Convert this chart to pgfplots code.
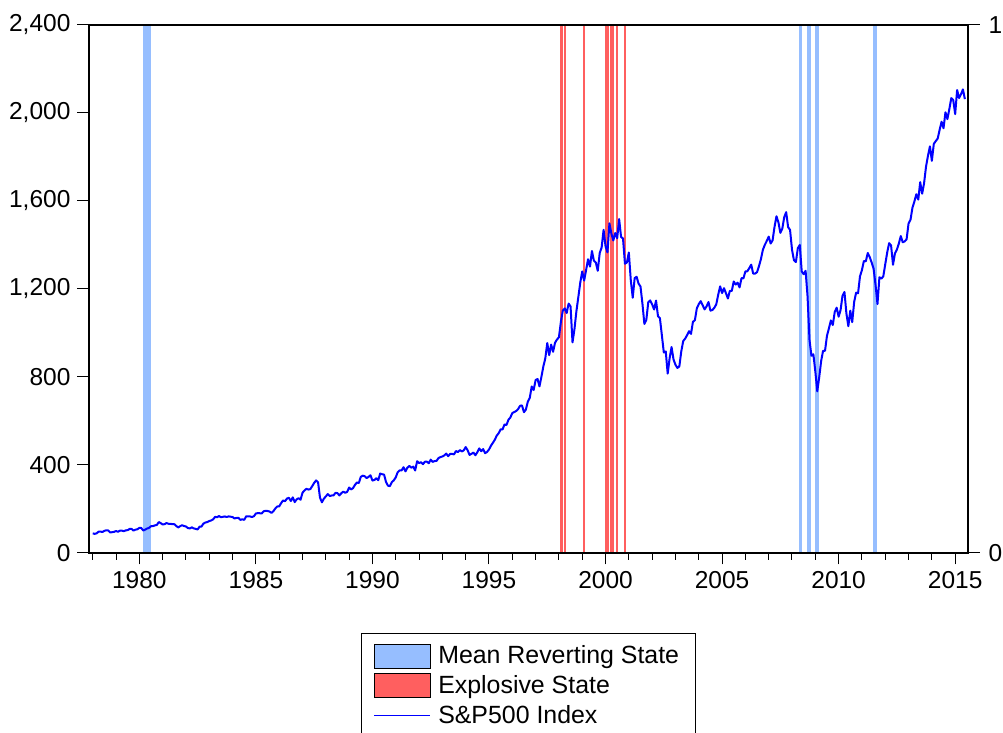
\documentclass[border=0pt]{standalone}
\usepackage{pgfplots}
\pgfplotsset{compat=1.18}
\usepackage{fontspec}
\setmainfont{Liberation Sans}
\definecolor{mrblue}{RGB}{150,190,255}
\definecolor{exred}{RGB}{255,95,95}
\definecolor{lineblue}{RGB}{0,0,255}
\begin{document}
\begin{tikzpicture}
\path[use as bounding box] (-44.5pt,-90pt) rectangle (457pt,276.5pt);
\pgfplotsset{
  common/.style={
    scale only axis, width=439.5pt, height=264pt,
    at={(0pt,0pt)}, anchor=south west,
    xmin=1977.84, xmax=2015.55,
    tick align=outside,
    major tick length=5.75pt, minor tick length=3.5pt,
    tick style={line width=0.5pt, black},
    font=\fontsize{12.25}{14}\selectfont,
    ticklabel style={font=\fontsize{12.25}{14}\selectfont},
    /pgf/number format/assume math mode=true,
    axis line style={line width=0.8pt},
  }
}
% right axis: regime indicator bands (0/1)
\begin{axis}[common, ymin=0, ymax=1, axis x line=none, axis y line*=right,
  ytick={0,1}, yticklabel style={xshift=1pt}]
\addplot[fill=mrblue, draw=none] coordinates {(1980.15,1) (1980.49,1)} \closedcycle;
\addplot[fill=exred, draw=none] coordinates {(1998.06,1) (1998.16,1)} \closedcycle;
\addplot[fill=exred, draw=none] coordinates {(1998.21,1) (1998.30,1)} \closedcycle;
\addplot[fill=exred, draw=none] coordinates {(1999.04,1) (1999.14,1)} \closedcycle;
\addplot[fill=exred, draw=none] coordinates {(1999.96,1) (2000.16,1)} \closedcycle;
\addplot[fill=exred, draw=none] coordinates {(2000.21,1) (2000.37,1)} \closedcycle;
\addplot[fill=exred, draw=none] coordinates {(2000.46,1) (2000.55,1)} \closedcycle;
\addplot[fill=exred, draw=none] coordinates {(2000.80,1) (2000.89,1)} \closedcycle;
\addplot[fill=mrblue, draw=none] coordinates {(2008.31,1) (2008.41,1)} \closedcycle;
\addplot[fill=mrblue, draw=none] coordinates {(2008.66,1) (2008.83,1)} \closedcycle;
\addplot[fill=mrblue, draw=none] coordinates {(2009.00,1) (2009.16,1)} \closedcycle;
\addplot[fill=mrblue, draw=none] coordinates {(2011.49,1) (2011.66,1)} \closedcycle;
\end{axis}
% left axis: S&P500 index
\begin{axis}[common, ymin=0, ymax=2400,
  ytick={0,400,...,2400},
  xtick={1980,1985,...,2015},
  minor xtick={1978,...,2015},
  xtick pos=bottom, ytick pos=left,
  xticklabel style={/pgf/number format/1000 sep={}},
  yticklabel style={/pgf/number format/1000 sep={,}},
  legend style={at={(0.5,-0.1515)}, anchor=north, draw=black, line width=0.5pt,
    font=\fontsize{12.45}{14}\selectfont, inner xsep=5.75pt, inner ysep=3.75pt,
    row sep=0pt, nodes={inner sep=2.2pt}},
  legend cell align=left,
]
\addlegendimage{legend image code/.code={\draw[fill=mrblue, draw=black, line width=0.4pt] (0pt,-6pt) rectangle (28pt,6pt);}}
\addlegendentry{\hspace*{1.5pt}Mean Reverting State}
\addlegendimage{legend image code/.code={\draw[fill=exred, draw=black, line width=0.4pt] (0pt,-6pt) rectangle (28pt,6pt);}}
\addlegendentry{\hspace*{1.5pt}Explosive State}
\addplot[lineblue, line width=1pt, line join=round,
  legend image code/.code={\draw[draw=lineblue, line width=0.7pt] (0pt,0pt) -- (28pt,0pt);}]
  table[row sep=\\, x expr=1978+\coordindex/12, y=v] {
v\\
89.25\\87.04\\89.21\\96.83\\97.24\\95.53\\100.68\\103.29\\102.54\\93.15\\94.70\\96.11\\
99.93\\96.28\\101.59\\101.76\\99.08\\102.91\\103.81\\109.32\\109.32\\101.82\\106.16\\107.94\\
114.16\\113.66\\102.09\\106.29\\111.24\\114.24\\121.67\\122.38\\125.46\\127.47\\140.52\\135.76\\
129.55\\131.27\\136.00\\132.81\\132.59\\131.21\\130.92\\122.79\\116.18\\121.89\\126.35\\122.55\\
120.40\\113.11\\111.96\\116.44\\111.88\\109.61\\107.09\\119.51\\120.42\\133.71\\138.54\\140.64\\
145.30\\148.06\\152.96\\164.42\\162.39\\168.11\\162.56\\164.40\\166.07\\163.55\\166.40\\164.93\\
163.41\\157.06\\159.18\\160.05\\150.55\\153.18\\150.66\\166.68\\166.10\\166.09\\163.58\\167.24\\
179.63\\181.18\\180.66\\179.83\\189.55\\191.85\\190.92\\188.63\\182.08\\189.82\\202.17\\211.28\\
211.78\\226.92\\238.90\\235.52\\247.35\\250.84\\236.12\\252.93\\231.32\\243.98\\249.22\\242.17\\
274.08\\284.20\\291.70\\288.36\\290.10\\304.00\\318.66\\329.80\\321.83\\251.79\\230.30\\247.08\\
257.07\\267.82\\258.89\\261.33\\262.16\\273.50\\272.02\\261.52\\271.91\\278.97\\273.70\\277.72\\
297.47\\288.86\\294.87\\309.64\\320.52\\317.98\\346.08\\351.45\\349.15\\340.36\\345.99\\353.40\\
329.08\\331.89\\339.94\\330.80\\361.23\\358.02\\356.15\\322.56\\306.05\\304.00\\322.22\\330.22\\
343.93\\367.07\\375.22\\375.35\\389.83\\371.16\\387.81\\395.43\\387.86\\392.46\\375.22\\417.09\\
408.79\\412.70\\403.69\\414.95\\415.35\\408.14\\424.21\\414.03\\417.80\\418.68\\431.35\\435.71\\
438.78\\443.38\\451.67\\440.19\\450.19\\450.53\\448.13\\463.56\\458.93\\467.83\\461.79\\466.45\\
481.61\\467.14\\445.77\\450.91\\456.50\\444.27\\458.26\\475.49\\462.69\\472.35\\453.69\\459.27\\
470.42\\487.39\\500.71\\514.71\\533.40\\544.75\\562.06\\561.88\\584.41\\581.50\\605.37\\615.93\\
636.02\\640.43\\645.50\\654.17\\669.12\\670.63\\639.95\\651.99\\687.31\\705.27\\757.02\\740.74\\
786.16\\790.82\\757.12\\801.34\\848.28\\885.14\\954.29\\899.47\\947.28\\914.62\\955.40\\970.43\\
980.28\\1049.34\\1101.75\\1111.75\\1090.82\\1133.84\\1120.67\\957.28\\1017.01\\1098.67\\1163.63\\1229.23\\
1279.64\\1238.33\\1286.37\\1335.18\\1301.84\\1372.71\\1328.72\\1320.41\\1282.71\\1362.93\\1388.91\\1469.25\\
1394.46\\1366.42\\1498.58\\1452.43\\1420.60\\1454.60\\1430.83\\1517.68\\1436.51\\1429.40\\1314.95\\1320.28\\
1366.01\\1239.94\\1160.33\\1249.46\\1255.82\\1224.38\\1211.23\\1133.58\\1040.94\\1059.78\\1139.45\\1148.08\\
1130.20\\1106.73\\1147.39\\1076.92\\1067.14\\989.82\\911.62\\916.07\\815.28\\885.76\\936.31\\879.82\\
855.70\\841.15\\848.18\\916.92\\963.59\\974.50\\990.31\\1008.01\\995.97\\1050.71\\1058.20\\1111.92\\
1131.13\\1144.94\\1126.21\\1107.30\\1120.68\\1140.84\\1101.72\\1104.24\\1114.58\\1130.20\\1173.82\\1211.92\\
1181.27\\1203.60\\1180.59\\1156.85\\1191.50\\1191.33\\1234.18\\1220.33\\1228.81\\1207.01\\1249.48\\1248.29\\
1280.08\\1280.66\\1294.83\\1310.61\\1270.09\\1270.20\\1276.66\\1303.82\\1335.85\\1377.94\\1400.63\\1418.30\\
1438.24\\1406.82\\1420.86\\1482.37\\1530.62\\1503.35\\1455.27\\1473.99\\1526.75\\1549.38\\1481.14\\1468.36\\
1378.55\\1330.63\\1322.70\\1385.59\\1400.38\\1280.00\\1267.38\\1282.83\\1166.36\\968.75\\896.24\\903.25\\
825.88\\735.09\\797.87\\872.81\\919.14\\919.32\\987.48\\1020.62\\1057.08\\1036.19\\1095.63\\1115.10\\
1073.87\\1104.49\\1169.43\\1186.69\\1089.41\\1030.71\\1101.60\\1049.33\\1141.20\\1183.26\\1180.55\\1257.64\\
1286.12\\1327.22\\1325.83\\1363.61\\1345.20\\1320.64\\1292.28\\1218.89\\1131.42\\1253.30\\1246.96\\1257.60\\
1312.41\\1365.68\\1408.47\\1397.91\\1310.33\\1362.16\\1379.32\\1406.58\\1440.67\\1412.16\\1416.18\\1426.19\\
1498.11\\1514.68\\1569.19\\1597.57\\1630.74\\1606.28\\1685.73\\1632.97\\1681.55\\1756.54\\1805.81\\1848.36\\
1782.59\\1859.45\\1872.34\\1883.95\\1923.57\\1960.23\\1930.67\\2003.37\\1972.29\\2018.05\\2067.56\\2058.90\\
1994.99\\2104.50\\2067.89\\2085.51\\2107.39\\2063.11\\
};
\addlegendentry{\hspace*{1.5pt}S\&P500 Index}
\end{axis}
\end{tikzpicture}
\end{document}
